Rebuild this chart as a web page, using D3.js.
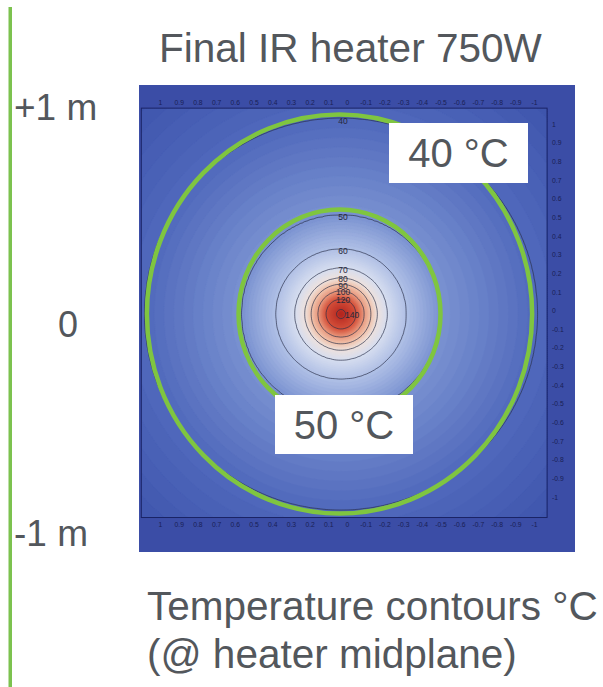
<!DOCTYPE html>
<html><head><meta charset="utf-8">
<script src="https://cdn.jsdelivr.net/npm/d3@7"></script>
<style>
html,body{margin:0;padding:0;background:#fff;}
svg{display:block;}
text{font-family:"Liberation Sans",Arial,sans-serif;}
</style></head>
<body>
<svg id="chart" width="603" height="687"></svg>
<script>
// ---- data ----
const title = "Final IR heater 750W";
const captionLines = ["Temperature contours °C", "(@ heater midplane)"];
const sideLabels = ["+1 m", "0", "-1 m"];
const xTicks = [1,0.9,0.8,0.7,0.6,0.5,0.4,0.3,0.2,0.1,0,-0.1,-0.2,-0.3,-0.4,-0.5,-0.6,-0.7,-0.8,-0.9,-1];
const yTicks = [1,0.9,0.8,0.7,0.6,0.5,0.4,0.3,0.2,0.1,0,-0.1,-0.2,-0.3,-0.4,-0.5,-0.6,-0.7,-0.8,-0.9,-1];
const contourLevels = [40,50,60,70,80,90,100,120,140];           // °C
const contourRadii  = [1.05,0.53,0.348,0.246,0.193,0.16,0.123,0.08,0.024]; // m
const heaterCenter = [0.032,-0.019];                               // m
const profileR = [0,0.024,0.08,0.123,0.16,0.193,0.246,0.348,0.53,1.05,1.6];
const profileT = [152,140,120,100,90,80,70,60,50,40,33];
const highlightLevels = ["40 °C","50 °C"];
const highlightRx = [1.03,0.54];
const highlightRy = [1.07,0.56];
const frameX = [1.1,-1.07];
const frameY = [1.085,-1.11];
const colorStopsT = [33,40,50,60,70,80,90,100,120,150];
const colorStops = ["#3d53ab","#5069bc","#7a92d1","#b0c0e6","#d6ddef","#ede1dd","#f0c4ae","#e99b80","#d4513b","#b2241d"];

// ---- layout ----
const svg = d3.select("#chart");
const x = d3.scaleLinear().domain([1,-1]).range([160,534]);
const y = d3.scaleLinear().domain([1,-1]).range([124,497]);
const color = d3.scaleLinear().domain(colorStopsT).range(colorStops).clamp(true);
const rToT = d3.scaleLinear().domain(profileR).range(profileT).clamp(true);

// left green rule
svg.append("rect").attr("x",8.5).attr("y",7).attr("width",3.5).attr("height",680).attr("fill","#7cc24f");

// title & labels
const txtCol = "#53575c";
svg.append("text").attr("x",159).attr("y",62).attr("font-size",40.5).attr("fill",txtCol).text(title);
svg.append("text").attr("x",14).attr("y",120).attr("font-size",37).attr("fill",txtCol).text(sideLabels[0]);
svg.append("text").attr("x",68).attr("y",337).attr("text-anchor","middle").attr("font-size",36).attr("fill",txtCol).text(sideLabels[1]);
svg.append("text").attr("x",14).attr("y",546).attr("font-size",37).attr("fill",txtCol).text(sideLabels[2]);
captionLines.forEach((t,i)=>{
  svg.append("text").attr("x",147).attr("y",620+i*48).attr("font-size",40.5).attr("fill",txtCol).text(t);
});

// blue panel
svg.append("rect").attr("x",139).attr("y",85).attr("width",436).attr("height",467).attr("fill","#3b4da6");

// field grid
const fx0 = x(frameX[0]), fx1 = x(frameX[1]), fy0 = y(frameY[0]), fy1 = y(frameY[1]);
const n = Math.round((fx1-fx0)/2), m = Math.round((fy1-fy0)/2);
const gx = d3.scaleLinear().domain([0,n]).range([fx0,fx1]);
const gy = d3.scaleLinear().domain([0,m]).range([fy0,fy1]);
const values = new Array(n*m);
for(let j=0;j<m;j++){
  for(let i=0;i<n;i++){
    const dx = x.invert(gx(i+0.5)) - heaterCenter[0];
    const dy = y.invert(gy(j+0.5)) - heaterCenter[1];
    values[i+j*n] = rToT(Math.hypot(dx,dy));
  }
}
const proj = d3.geoTransform({point:function(a,b){this.stream.point(gx(a),gy(b));}});
const path = d3.geoPath(proj);

const clipId = "frameclip";
svg.append("clipPath").attr("id",clipId).append("rect")
  .attr("x",fx0).attr("y",fy0).attr("width",fx1-fx0).attr("height",fy1-fy0);
const plot = svg.append("g").attr("clip-path",`url(#${clipId})`);

const fillThresholds = d3.range(30,153,1);
const fillContours = d3.contours().size([n,m]).thresholds(fillThresholds)(values);
plot.append("g").selectAll("path").data(fillContours).join("path")
  .attr("d",path).attr("fill",d=>color(d.value+0.5)).attr("stroke",d=>color(d.value+0.5)).attr("stroke-width",0.5);

// contour lines
const lineContours = d3.contours().size([n,m]).thresholds(contourLevels)(values);
plot.append("g").selectAll("path").data(lineContours).join("path")
  .attr("d",path).attr("fill","none").attr("stroke","#2a2f48").attr("stroke-width",0.8).attr("stroke-opacity",0.85);

// green highlight circles
plot.append("g").selectAll("ellipse").data(highlightRx).join("ellipse")
  .attr("cx",x(heaterCenter[0])-1.5).attr("cy",y(heaterCenter[1]))
  .attr("rx",(d)=>Math.abs(x(d)-x(0)))
  .attr("ry",(d,i)=>Math.abs(y(highlightRy[i])-y(0)))
  .attr("fill","none").attr("stroke","#7fc540").attr("stroke-width",4.5);

// contour labels
const cx = x(heaterCenter[0]), cy = y(heaterCenter[1]);
plot.append("g").selectAll("text").data(contourLevels).join("text")
  .attr("x",(d,i)=> i===contourLevels.length-1 ? cx+11 : cx+2)
  .attr("y",(d,i)=> i===contourLevels.length-1 ? cy+3.5 : cy-(y(0)-y(contourRadii[i]))*0.99+4)
  .attr("text-anchor","middle").attr("font-size",8.5).attr("fill","#26283a")
  .text(d=>d);

// frame
svg.append("rect").attr("x",fx0).attr("y",fy0).attr("width",fx1-fx0).attr("height",fy1-fy0)
  .attr("fill","none").attr("stroke","#1b2466").attr("stroke-width",1);

// axes
const fmt = d=>String(+d.toFixed(1));
const tickCol = "#1a1f55";
function styleAxis(g){
  g.select(".domain").remove();
  g.selectAll(".tick line").remove();
  g.selectAll("text").attr("font-size",6.8).attr("fill",tickCol).attr("font-family","Liberation Sans, Arial, sans-serif");
}
svg.append("g").attr("transform","translate(0,105)")
  .call(d3.axisTop(x).tickValues(xTicks).tickFormat(fmt).tickSize(0).tickPadding(0)).call(styleAxis);
svg.append("g").attr("transform","translate(0,522)")
  .call(d3.axisBottom(x).tickValues(xTicks).tickFormat(fmt).tickSize(0).tickPadding(0)).call(styleAxis);
svg.append("g").attr("transform","translate(552,0)")
  .call(d3.axisRight(y).tickValues(yTicks).tickFormat(fmt).tickSize(0).tickPadding(0)).call(styleAxis);

// white callout boxes
const boxes = [
  {label:highlightLevels[0], bx:389, by:123, bw:139, bh:60},
  {label:highlightLevels[1], bx:275, by:395, bw:138, bh:59}
];
boxes.forEach(b=>{
  svg.append("rect").attr("x",b.bx).attr("y",b.by).attr("width",b.bw).attr("height",b.bh).attr("fill","#fff");
  svg.append("text").attr("x",b.bx+b.bw/2).attr("y",b.by+b.bh/2+14).attr("text-anchor","middle")
    .attr("font-size",40).attr("fill",txtCol).text(b.label);
});
</script>
</body></html>
